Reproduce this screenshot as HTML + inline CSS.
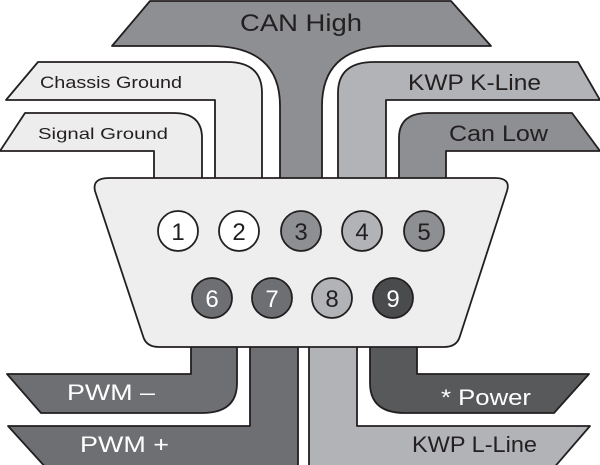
<!DOCTYPE html>
<html><head><meta charset="utf-8"><style>
html,body{margin:0;padding:0;background:#fff;}
svg{display:block;}
text{font-family:"Liberation Sans",sans-serif;}
</style></head><body>
<svg width="600" height="465" viewBox="0 0 600 465" xmlns="http://www.w3.org/2000/svg">
<g stroke="#231f20" stroke-width="1.8" stroke-linejoin="round">
<path d="M150,1 L451,1 L491,46 L391,46 Q322,46 322,106 L322,182 L280,182 L280,106 Q280,46 210,46 L112,46 Z" fill="#8e8f92"/>
<path d="M38,62 L227,62 Q262,62 262,93 L262,182 L215,182 L215,100 L6,100 Z" fill="#ededee"/>
<path d="M25,113 L174,113 Q202,113 202,138 L202,182 L154,182 L154,151 L0,151 Z" fill="#ededee"/>
<path d="M374,62 Q338,62 338,93 L338,182 L386,182 L386,100 L600,100 L578,62 Z" fill="#b1b3b6"/>
<path d="M428,113 Q399,113 399,138 L399,182 L446,182 L446,151 L600,151 L572,113 Z" fill="#8e8f92"/>
<path d="M191,343 L237,343 L237,383 Q237,413 202,413 L41,413 L7,374 L191,374 Z" fill="#6e6f72"/>
<path d="M250,343 L298,343 L298,470 L48,470 L8,426 L250,426 Z" fill="#6e6f72"/>
<path d="M309,343 L357,343 L357,426 L590,426 L552,470 L309,470 Z" fill="#b1b3b6"/>
<path d="M370,343 L417,343 L417,374 L589,374 L554,413 L405,413 Q370,413 370,383 Z" fill="#58595b"/>
<path d="M109,178 L495,178 Q511,178 507,191 L460,336 Q457,347 444,347 L159,347 Q146,347 143,336 L95,191 Q92,178 109,178 Z" fill="#eeeeef"/>
<circle cx="178" cy="231" r="20" fill="#fff"/>
<circle cx="239" cy="231" r="20" fill="#fff"/>
<circle cx="301" cy="231" r="20" fill="#8e8f92"/>
<circle cx="362" cy="231" r="20" fill="#b1b3b6"/>
<circle cx="424" cy="231" r="20" fill="#8e8f92"/>
<circle cx="212" cy="298" r="20" fill="#6e6f72"/>
<circle cx="272" cy="298" r="20" fill="#6e6f72"/>
<circle cx="332" cy="298" r="20" fill="#b1b3b6"/>
<circle cx="393" cy="298" r="20" fill="#4a4b4d"/>
</g>
<g font-size="24" text-anchor="middle" fill="#231f20">
<text x="178" y="240">1</text><text x="239" y="240">2</text><text x="301" y="240">3</text><text x="362" y="240">4</text><text x="424" y="240">5</text>
<text x="212" y="307" fill="#fff">6</text><text x="272" y="307" fill="#fff">7</text><text x="332" y="307">8</text><text x="393" y="307" fill="#fff">9</text>
</g>
<g fill="#231f20" lengthAdjust="spacingAndGlyphs">
<text x="240" y="31" font-size="24" textLength="122" lengthAdjust="spacingAndGlyphs">CAN High</text>
<text x="40" y="88" font-size="17" textLength="142" lengthAdjust="spacingAndGlyphs">Chassis Ground</text>
<text x="38" y="139" font-size="16" textLength="130" lengthAdjust="spacingAndGlyphs">Signal Ground</text>
<text x="408" y="90" font-size="22" textLength="133" lengthAdjust="spacingAndGlyphs">KWP K-Line</text>
<text x="449" y="141" font-size="22" textLength="99" lengthAdjust="spacingAndGlyphs">Can Low</text>
<text x="412" y="452" font-size="22" textLength="125" lengthAdjust="spacingAndGlyphs">KWP L-Line</text>
</g>
<g fill="#fff" font-size="22">
<text x="67" y="400" textLength="88" lengthAdjust="spacingAndGlyphs">PWM –</text>
<text x="80" y="452" textLength="89" lengthAdjust="spacingAndGlyphs">PWM +</text>
<text x="441" y="405" textLength="90" lengthAdjust="spacingAndGlyphs">* Power</text>
</g>
</svg>
</body></html>
